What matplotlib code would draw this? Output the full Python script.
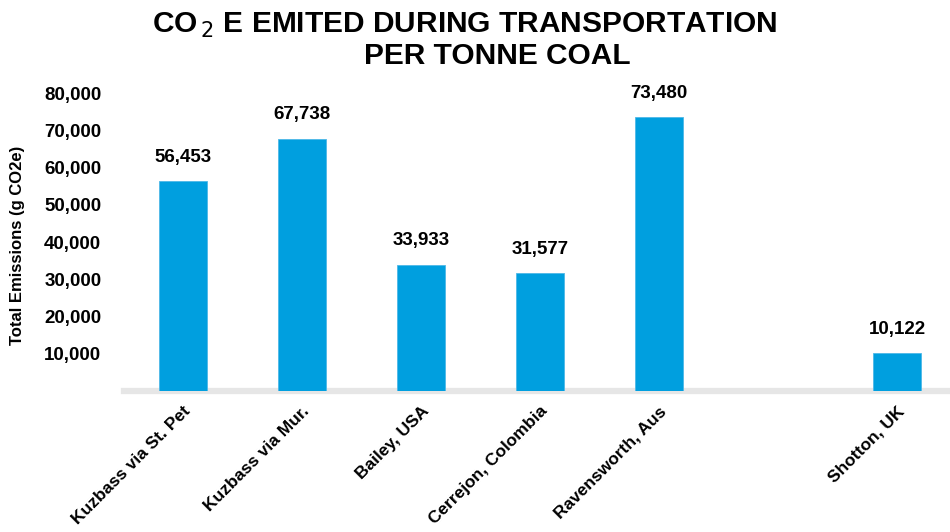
import matplotlib
matplotlib.use("Agg")
import matplotlib.pyplot as plt
import numpy as np

# data (one empty slot between Ravensworth and Shotton)
sites = ["Kuzbass via St. Pet", "Kuzbass via Mur.", "Bailey, USA",
         "Cerrejon, Colombia", "Ravensworth, Aus", "", "Shotton, UK"]
emissions = [56453, 67738, 33933, 31577, 73480, np.nan, 10122]
yticks = [10000, 20000, 30000, 40000, 50000, 60000, 70000, 80000]

BAR = "#009FDF"
plt.rcParams["font.family"] = ["Liberation Sans", "DejaVu Sans"]

fig = plt.figure(figsize=(9.5, 5.32), dpi=100)
ax = fig.add_axes([0.130, 0.265, 0.877, 0.560])

x = np.arange(len(sites))
vals = np.array(emissions, dtype=float)
ok = ~np.isnan(vals)
ax.bar(x[ok], vals[ok], width=0.4, color=BAR, edgecolor="#4DB8E8", linewidth=0.6, zorder=3)
for xi, v in zip(x[ok], vals[ok]):
    ax.annotate(f"{v:,.0f}", (xi, v), xytext=(0, 11), textcoords="offset points",
                ha="center", va="bottom", fontsize=13.5, fontweight="bold", annotation_clip=False)

ax.axhline(0, color="#E6E6E6", lw=4.5, zorder=2, clip_on=False)
ax.set_xlim(-0.5, len(sites) - 0.5)
ax.set_ylim(0, 80000)
ax.set_yticks(yticks)
ax.set_yticklabels([f"{t:,}" for t in yticks], fontsize=13.5, fontweight="bold")
ax.set_xticks(x)
ax.set_xticklabels(sites, rotation=45, ha="right", rotation_mode="anchor",
                   fontsize=12.5, fontweight="bold")
ax.tick_params(axis="both", length=0)
ax.tick_params(axis="y", pad=16)
ax.tick_params(axis="x", pad=9)
for s in ax.spines.values():
    s.set_visible(False)
ax.set_ylabel("Total Emissions (g CO2e)", fontsize=12, fontweight="bold")
ax.yaxis.set_label_coords((26 - 124) / 833, 0.49)

fig.text(0.489, 0.952, r"CO$_{\,2}$ E EMITED DURING TRANSPORTATION", ha="center", va="center",
         fontsize=21.5, fontweight="bold")
fig.text(0.524, 0.895, "PER TONNE COAL", ha="center", va="center",
         fontsize=21.5, fontweight="bold")

fig.savefig("out.png", dpi=100)
